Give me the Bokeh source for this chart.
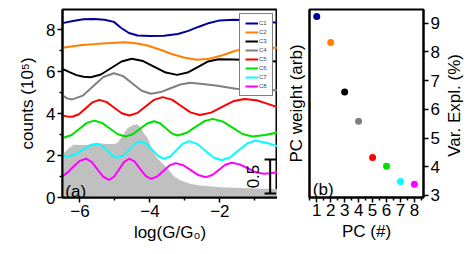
from bokeh.plotting import figure
from bokeh.models import Range1d, LinearAxis, FixedTicker, Label, Legend, LegendItem
from bokeh.layouts import row
from bokeh.embed import file_html
from bokeh.resources import INLINE

FONT = "Liberation Sans"
FS = "17px"

# ---------------- data: panel (a) ----------------
c1_x = [-6.5, -6.2, -5.9, -5.6, -5.3, -5.03, -4.83, -4.6, -4.35, -4.0, -3.6, -3.2, -2.9, -2.6, -2.3, -2.0, -1.6, -1.2, -0.8, -0.35]
c1_y = [8.32, 8.42, 8.5, 8.52, 8.48, 8.38, 8.1, 7.85, 7.73, 7.7, 7.72, 7.8, 7.95, 8.15, 8.33, 8.45, 8.48, 8.46, 8.42, 8.33]

c2_x = [-6.5, -6.0, -5.5, -5.1, -4.74, -4.4, -4.07, -3.7, -3.4, -3.0, -2.66, -2.3, -1.9, -1.6, -1.36, -1.0, -0.35]
c2_y = [7.15, 7.26, 7.33, 7.37, 7.41, 7.36, 7.25, 7.05, 6.86, 6.67, 6.57, 6.62, 6.8, 6.98, 7.08, 7.11, 7.14]

c3_x = [-6.5, -6.3, -6.1, -5.9, -5.69, -5.4, -5.105, -4.81, -4.52, -4.195, -3.87, -3.545, -3.22, -2.925, -2.63, -2.335, -2.04, -1.6, -1.0, -0.35]
c3_y = [6.14, 5.98, 5.84, 5.76, 5.74, 5.87, 6.18, 6.49, 6.62, 6.51, 6.235, 5.96, 5.85, 5.96, 6.225, 6.49, 6.6, 6.58, 6.55, 6.49]

c4_x = [-6.5, -6.38, -6.22, -5.92, -5.625, -5.33, -5.03, -4.765, -4.5, -4.235, -3.97, -3.69, -3.41, -3.13, -2.85, -2.5, -2.12, -1.54, -1.0, -0.35]
c4_y = [4.87, 4.74, 4.68, 4.86, 5.305, 5.75, 5.93, 5.79, 5.44, 5.09, 4.95, 5.03, 5.21, 5.39, 5.47, 5.42, 5.34, 5.19, 5.14, 5.12]

c5_x = [-6.5, -6.37, -6.22, -6.03, -5.835, -5.64, -5.45, -5.235, -5.02, -4.805, -4.59, -4.35, -4.115, -3.88, -3.64, -3.37, -3.105, -2.84, -2.57, -2.25, -1.935, -1.62, -1.3, -0.95, -0.65, -0.35]
c5_y = [3.91, 3.87, 3.85, 3.97, 4.255, 4.54, 4.66, 4.55, 4.285, 4.02, 3.91, 4.04, 4.35, 4.66, 4.79, 4.67, 4.365, 4.06, 3.94, 4.05, 4.32, 4.59, 4.7, 4.64, 4.48, 4.31]

c6_x = [-6.5, -6.45, -6.24, -6.025, -5.81, -5.6, -5.37, -5.145, -4.92, -4.69, -4.49, -4.285, -4.08, -3.88, -3.71, -3.545, -3.38, -3.21, -2.96, -2.705, -2.45, -2.2, -1.92, -1.635, -1.35, -1.07, -0.7, -0.35]
c6_y = [2.88, 2.86, 2.98, 3.265, 3.55, 3.67, 3.56, 3.29, 3.02, 2.91, 3.02, 3.275, 3.53, 3.64, 3.54, 3.3, 3.06, 2.96, 3.075, 3.355, 3.635, 3.75, 3.63, 3.33, 3.03, 2.91, 2.98, 3.1]

c7_x = [-6.5, -6.35, -6.15, -5.95, -5.72, -5.5, -5.36, -5.215, -5.07, -4.93, -4.76, -4.595, -4.43, -4.26, -4.09, -3.925, -3.76, -3.59, -3.41, -3.235, -3.06, -2.88, -2.65, -2.415, -2.18, -1.95, -1.705, -1.46, -1.215, -0.97, -0.65, -0.35]
c7_y = [2.0, 1.96, 2.05, 2.25, 2.47, 2.56, 2.46, 2.225, 1.99, 1.89, 2.0, 2.28, 2.56, 2.67, 2.55, 2.26, 1.97, 1.85, 1.97, 2.27, 2.57, 2.69, 2.56, 2.235, 1.91, 1.78, 1.92, 2.25, 2.58, 2.72, 2.6, 2.45]

c8_x = [-6.5, -6.35, -6.17, -6.0, -5.83, -5.665, -5.5, -5.335, -5.17, -5.025, -4.88, -4.735, -4.59, -4.435, -4.28, -4.125, -3.97, -3.79, -3.615, -3.44, -3.26, -3.045, -2.83, -2.615, -2.4, -2.215, -2.03, -1.845, -1.66, -1.43, -1.205, -0.98, -0.75, -0.55, -0.35]
c8_y = [1.02, 1.2, 1.5, 1.75, 1.85, 1.7, 1.345, 0.99, 0.84, 0.99, 1.345, 1.7, 1.85, 1.71, 1.37, 1.03, 0.89, 1.0, 1.265, 1.53, 1.64, 1.54, 1.305, 1.07, 0.97, 1.07, 1.315, 1.56, 1.66, 1.58, 1.395, 1.21, 1.13, 1.16, 1.21]

hist_x = [-6.5, -6.35, -6.18, -6.0, -5.8, -5.6, -5.4, -5.22, -5.05, -4.93, -4.8, -4.64, -4.5, -4.36, -4.25, -4.17, -4.07, -3.97, -3.88, -3.78, -3.65, -3.5, -3.31, -3.11, -2.83, -2.54, -2.0, -1.58, -1.0, -0.35]
hist_y = [2.05, 2.3, 2.52, 2.5, 2.5, 2.6, 2.58, 2.55, 2.55, 2.6, 2.9, 3.3, 3.45, 3.5, 3.3, 3.05, 2.85, 2.45, 2.1, 1.85, 1.65, 1.4, 1.0, 0.81, 0.65, 0.57, 0.49, 0.46, 0.43, 0.41]

curve_names = ["C1", "C2", "C3", "C4", "C5", "C6", "C7", "C8"]
curve_colors = ["#000099", "#FF8000", "#000000", "#808080", "#FF0000", "#00E000", "#00FFFF", "#FF00FF"]
curves_x = [c1_x, c2_x, c3_x, c4_x, c5_x, c6_x, c7_x, c8_x]
curves_y = [c1_y, c2_y, c3_y, c4_y, c5_y, c6_y, c7_y, c8_y]

a_yticks = [0, 2, 4, 6, 8]
a_yminor = [1, 3, 5, 7]
a_xticks = [-6, -4, -2]
a_xminor = [-5, -3, -1]

# ---------------- data: panel (b) ----------------
pc_num = [1, 2, 3, 4, 5, 6, 7, 8]
var_expl = [9.24, 8.33, 6.61, 5.59, 4.32, 4.02, 3.49, 3.39]
b_yticks = [3, 4, 5, 6, 7, 8, 9]
b_xminor = [0.5, 1.5, 2.5, 3.5, 4.5, 5.5, 6.5, 7.5, 8.5]


def style_axis(ax, size=FS):
    ax.axis_line_width = 2
    ax.axis_line_color = "black"
    ax.major_tick_line_width = 1.5
    ax.minor_tick_line_width = 1.5
    ax.major_tick_in = 0
    ax.major_tick_out = 5
    ax.minor_tick_in = 0
    ax.minor_tick_out = 3
    ax.major_label_text_font = FONT
    ax.major_label_text_font_size = size
    ax.major_label_text_color = "black"
    ax.axis_label_text_font = FONT
    ax.axis_label_text_font_size = size
    ax.axis_label_text_font_style = "normal"
    ax.axis_label_text_color = "black"
    ax.major_label_standoff = 2


# ---------------- panel (a) ----------------
pa = figure(output_backend="svg", toolbar_location=None,
            frame_width=215, frame_height=188,
            min_border_left=62, min_border_right=0, min_border_top=9, min_border_bottom=53,
            x_range=Range1d(-6.5, -0.35), y_range=Range1d(0, 8.97))
pa.grid.visible = False
pa.outline_line_color = "black"
pa.outline_line_width = 2
pa.background_fill_color = "white"
pa.border_fill_color = "white"

pa.varea(x=hist_x, y1=0, y2=hist_y, color="#C0C0C0")

renderers = []
for cx, cy, col in zip(curves_x, curves_y, curve_colors):
    r = pa.line(cx, cy, line_color=col, line_width=2)
    renderers.append(r)

# scale bar
pa.segment(x0=[-0.56, -0.72, -0.72], y0=[0.19, 0.19, 1.81], x1=[-0.56, -0.39, -0.39], y1=[1.81, 0.19, 1.81],
           line_color="black", line_width=2)
pa.add_layout(Label(x=-1.06, y=1.0, text="0.5", angle=1.5708, text_font=FONT, text_font_size=FS,
                    text_align="center", text_baseline="middle", text_color="black"))
pa.add_layout(Label(x=-6.42, y=0.3, text="(a)", text_font=FONT, text_font_size=FS,
                    text_baseline="alphabetic", text_color="black"))

legend = Legend(items=[LegendItem(label=n, renderers=[r]) for n, r in zip(curve_names, renderers)],
                location="top_right")
legend.label_text_font = FONT
legend.label_text_font_size = "6px"
legend.glyph_width = 13
legend.glyph_height = 8
legend.label_height = 8
legend.label_width = 8
legend.label_standoff = 1
legend.spacing = 1
legend.padding = 5
legend.margin = 4
legend.border_line_color = "black"
legend.border_line_width = 1
legend.background_fill_alpha = 1
pa.add_layout(legend)

pa.xaxis.ticker = FixedTicker(ticks=a_xticks, minor_ticks=a_xminor)
pa.yaxis.ticker = FixedTicker(ticks=a_yticks, minor_ticks=a_yminor)
style_axis(pa.xaxis[0])
style_axis(pa.yaxis[0])
pa.xaxis.axis_label = "log(G/G\u2080)"
pa.yaxis.axis_label = "counts (10\u2075)"
pa.xaxis.axis_label_standoff = 3
pa.yaxis.axis_label_standoff = 6

# ---------------- panel (b) ----------------
pb = figure(output_backend="svg", toolbar_location=None,
            frame_width=114, frame_height=188,
            min_border_left=32, min_border_right=19, min_border_top=9, min_border_bottom=53,
            x_range=Range1d(0.48, 8.65), y_range=Range1d(2.93, 9.48),
            y_axis_location="right")
pb.grid.visible = False
pb.outline_line_color = "black"
pb.outline_line_width = 2
pb.background_fill_color = "white"
pb.border_fill_color = "white"

pb.scatter(pc_num, var_expl, size=7, color=curve_colors, line_color=None)

pb.xaxis.ticker = FixedTicker(ticks=pc_num, minor_ticks=b_xminor)
pb.yaxis.ticker = FixedTicker(ticks=b_yticks, minor_ticks=[])
style_axis(pb.xaxis[0])
style_axis(pb.yaxis[0])
pb.xaxis.major_label_standoff = 1
pb.xaxis.axis_label = "PC (#)"
pb.xaxis.axis_label_standoff = 3

left_ax = LinearAxis(ticker=FixedTicker(ticks=[]), axis_label="PC weight (arb)")
style_axis(left_ax)
left_ax.major_label_text_font_size = "0px"
left_ax.major_tick_out = 0
left_ax.minor_tick_out = 0
left_ax.axis_label_standoff = 4
pb.add_layout(left_ax, "left")

pb.add_layout(Label(x=0.72, y=3.2, text="(b)", text_font=FONT, text_font_size=FS,
                    text_baseline="alphabetic", text_color="black"))

# ---------------- thin strip holding the right-axis title (reads bottom-to-top) ----------------
pt = figure(output_backend="svg", toolbar_location=None,
            frame_width=24, frame_height=188,
            min_border_left=0, min_border_right=0, min_border_top=9, min_border_bottom=53,
            x_range=Range1d(0, 1), y_range=Range1d(0, 1))
pt.axis.visible = False
pt.grid.visible = False
pt.outline_line_color = None
pt.background_fill_color = "white"
pt.border_fill_color = "white"
pt.add_layout(Label(x=0.5, y=0.49, text="Var. Expl. (%)", angle=1.5708, text_font=FONT,
                    text_font_size=FS, text_align="center", text_baseline="middle", text_color="black"))

layout = row(pa, pb, pt, spacing=0)
open("out.html", "w").write(file_html(layout, INLINE))
